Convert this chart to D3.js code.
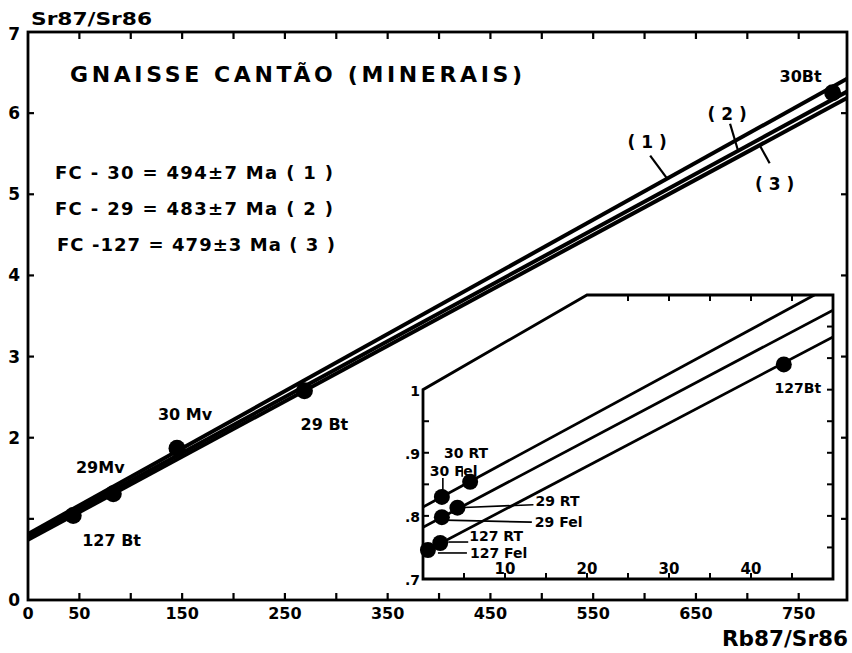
<!DOCTYPE html>
<html>
<head>
<meta charset="utf-8">
<script src="https://cdn.jsdelivr.net/npm/d3@7"></script>
<style>
  body { margin: 0; background: #fff; }
  text { font-family: "DejaVu Sans", sans-serif; font-weight: bold; fill: #000; }
</style>
</head>
<body>
<div id="wrapper"></div>
<script>
// main diagram: minerals
const mineralNames = ["127 Bt", "29Mv", "30 Mv", "29 Bt", "30Bt"];
const mineralRb = [44, 83, 145, 269, 783];
const mineralSr = [1.04, 1.31, 1.87, 2.58, 6.25];

// inset: whole rocks and feldspars
const insetNames = ["30 Fel", "30 RT", "29 Fel", "29 RT", "127 Fel", "127 RT", "127Bt"];
const insetRb = [2.3, 5.75, 2.3, 4.2, 0.6, 2.1, 44];
const insetSr = [0.83, 0.854, 0.798, 0.813, 0.746, 0.757, 1.04];

// isochrons
const isoLabels = ["( 1 )", "( 2 )", "( 3 )"];
const isoSlope = [0.00704, 0.00688, 0.00683];
const isoIntercept = [0.814, 0.782, 0.742];
const ageLines = ["FC - 30 = 494±7 Ma ( 1 )", "FC - 29 = 483±7 Ma ( 2 )", "FC -127 = 479±3 Ma ( 3 )"];

// ticks
const xTickLabels = [0, 50, 150, 250, 350, 450, 550, 650, 750];
const yTickLabels = [0, 2, 3, 4, 5, 6, 7];
const insetXLabels = [10, 20, 30, 40];
const insetYLabels = [0.7, 0.8, 0.9, 1];

const mainData = mineralNames.map((name, i) => ({ name, x: mineralRb[i], y: mineralSr[i] }));
const insetData = insetNames.map((name, i) => ({ name, x: insetRb[i], y: insetSr[i] }));
const isochrons = isoLabels.map((label, i) => ({ label, m: isoSlope[i], b: isoIntercept[i] }));

const drawChart = () => {
  const dimensions = { width: 852, height: 653 };

  const svg = d3
    .select("#wrapper")
    .append("svg")
    .attr("width", dimensions.width)
    .attr("height", dimensions.height);

  svg.append("rect").attr("width", dimensions.width).attr("height", dimensions.height).attr("fill", "#fff");

  const xScale = d3.scaleLinear().domain([0, 797]).range([28, 847]);
  const yScale = d3.scaleLinear().domain([0, 7]).range([600, 32]);

  svg.append("clipPath").attr("id", "mainClip")
    .append("rect")
    .attr("x", xScale(0)).attr("y", yScale(7))
    .attr("width", xScale(797) - xScale(0))
    .attr("height", yScale(0) - yScale(7));

  // isochron lines
  svg.append("g")
    .attr("clip-path", "url(#mainClip)")
    .selectAll("line")
    .data(isochrons)
    .join("line")
    .attr("x1", xScale(0))
    .attr("y1", (d) => yScale(d.b))
    .attr("x2", xScale(797))
    .attr("y2", (d) => yScale(d.b + d.m * 797))
    .attr("stroke", "#000")
    .attr("stroke-width", 4);

  // frame
  svg.append("rect")
    .attr("x", xScale(0)).attr("y", yScale(7))
    .attr("width", xScale(797) - xScale(0))
    .attr("height", yScale(0) - yScale(7))
    .attr("fill", "none")
    .attr("stroke", "#000")
    .attr("stroke-width", 2.8);

  const xTicks = d3.range(50, 797, 50);
  const yTicks = d3.range(1, 7);
  const tickG = svg.append("g").attr("stroke", "#000").attr("stroke-width", 2.2);
  xTicks.forEach((t) => {
    tickG.append("line").attr("x1", xScale(t)).attr("x2", xScale(t)).attr("y1", yScale(0)).attr("y2", yScale(0) - 7);
    tickG.append("line").attr("x1", xScale(t)).attr("x2", xScale(t)).attr("y1", yScale(7)).attr("y2", yScale(7) + 7);
  });
  yTicks.forEach((t) => {
    tickG.append("line").attr("x1", xScale(0)).attr("x2", xScale(0) + 6).attr("y1", yScale(t)).attr("y2", yScale(t));
    tickG.append("line").attr("x1", xScale(797)).attr("x2", xScale(797) - 6).attr("y1", yScale(t)).attr("y2", yScale(t));
  });

  svg.append("g")
    .selectAll("text")
    .data(xTickLabels)
    .join("text")
    .attr("x", (d) => xScale(d))
    .attr("y", yScale(0) + 19)
    .attr("text-anchor", "middle")
    .style("font-size", "16px")
    .text((d) => d);

  svg.append("g")
    .selectAll("text")
    .data(yTickLabels)
    .join("text")
    .attr("x", 20)
    .attr("y", (d) => yScale(d) + (d === 7 ? 8 : 6))
    .attr("text-anchor", "end")
    .style("font-size", "17px")
    .text((d) => d);

  svg.append("text").attr("x", 31).attr("y", 25)
    .attr("textLength", 121).attr("lengthAdjust", "spacingAndGlyphs")
    .style("font-size", "18px").text("Sr87/Sr86");
  svg.append("text").attr("x", 722).attr("y", 646)
    .attr("textLength", 126).attr("lengthAdjust", "spacingAndGlyphs")
    .style("font-size", "21px").text("Rb87/Sr86");

  svg.append("text")
    .attr("x", 70).attr("y", 82)
    .attr("textLength", 452)
    .attr("lengthAdjust", "spacing")
    .style("font-size", "22px")
    .text("GNAISSE CANTÃO  (MINERAIS)");

  svg.append("g")
    .selectAll("text")
    .data(ageLines)
    .join("text")
    .attr("x", (d, i) => (i === 2 ? 57 : 55))
    .attr("y", (d, i) => 179 + i * 36)
    .attr("textLength", 278)
    .attr("lengthAdjust", "spacing")
    .style("font-size", "18px")
    .text((d) => d);

  // isochron labels with leaders
  const isoAnnot = [
    { at: 622, leader: [-17, -23], text: [-20, -31] },
    { at: 691, leader: [-8, -27], text: [-11, -31] },
    { at: 712, leader: [10, 18], text: [15, 45] },
  ];
  isochrons.forEach((d, i) => {
    const a = isoAnnot[i];
    const px = xScale(a.at);
    const py = yScale(d.b + d.m * a.at);
    svg.append("line")
      .attr("x1", px).attr("y1", py)
      .attr("x2", px + a.leader[0]).attr("y2", py + a.leader[1])
      .attr("stroke", "#000").attr("stroke-width", 2.2);
    svg.append("text")
      .attr("x", px + a.text[0]).attr("y", py + a.text[1])
      .attr("text-anchor", "middle")
      .style("font-size", "17px")
      .text(d.label);
  });

  // mineral points
  svg.append("g")
    .selectAll("circle")
    .data(mainData)
    .join("circle")
    .attr("cx", (d) => xScale(d.x))
    .attr("cy", (d) => yScale(d.y))
    .attr("r", 8.5)
    .attr("fill", "#000");

  const mainLabelPos = [
    [9, 30, "start"],
    [-13, -21, "middle"],
    [8, -28, "middle"],
    [20, 39, "middle"],
    [-32, -11, "middle"],
  ];
  svg.append("g")
    .selectAll("text")
    .data(mainData)
    .join("text")
    .attr("x", (d, i) => xScale(d.x) + mainLabelPos[i][0])
    .attr("y", (d, i) => yScale(d.y) + mainLabelPos[i][1])
    .attr("text-anchor", (d, i) => mainLabelPos[i][2])
    .style("font-size", "16px")
    .text((d) => d.name);

  // ---------- inset ----------
  const ix = d3.scaleLinear().domain([0, 50]).range([423, 833]);
  const iy = d3.scaleLinear().domain([0.7, 1.15]).range([579, 295]);
  const corner = [[0, 0.7], [0, 1.0], [20, 1.15], [50, 1.15], [50, 0.7]];
  const polyPath = d3.line().x((d) => ix(d[0])).y((d) => iy(d[1]))(corner) + "Z";

  svg.append("clipPath").attr("id", "insetClip").append("path").attr("d", polyPath);
  svg.append("path").attr("d", polyPath).attr("fill", "#fff");

  svg.append("g")
    .attr("clip-path", "url(#insetClip)")
    .selectAll("line")
    .data(isochrons)
    .join("line")
    .attr("x1", ix(0))
    .attr("y1", (d) => iy(d.b))
    .attr("x2", ix(50))
    .attr("y2", (d) => iy(d.b + d.m * 50))
    .attr("stroke", "#000")
    .attr("stroke-width", 2.8);

  svg.append("path").attr("d", polyPath).attr("fill", "none").attr("stroke", "#000").attr("stroke-width", 2.8);

  const iTicks = svg.append("g").attr("stroke", "#000").attr("stroke-width", 2);
  d3.range(5, 50, 5).forEach((t) => {
    iTicks.append("line").attr("x1", ix(t)).attr("x2", ix(t)).attr("y1", iy(0.7)).attr("y2", iy(0.7) - 6);
    if (t > 20) iTicks.append("line").attr("x1", ix(t)).attr("x2", ix(t)).attr("y1", iy(1.15)).attr("y2", iy(1.15) + 6);
  });
  d3.range(0.75, 0.99, 0.05).forEach((t) => {
    iTicks.append("line").attr("x1", ix(0)).attr("x2", ix(0) + 6).attr("y1", iy(t)).attr("y2", iy(t));
  });
  d3.range(0.75, 1.14, 0.05).forEach((t) => {
    iTicks.append("line").attr("x1", ix(50)).attr("x2", ix(50) - 6).attr("y1", iy(t)).attr("y2", iy(t));
  });

  svg.append("g")
    .selectAll("text")
    .data(insetXLabels)
    .join("text")
    .attr("x", (d) => ix(d))
    .attr("y", iy(0.7) - 5)
    .attr("text-anchor", "middle")
    .style("font-size", "15px")
    .text((d) => d);

  svg.append("g")
    .selectAll("text")
    .data(insetYLabels)
    .join("text")
    .attr("x", ix(0) - 3)
    .attr("y", (d) => iy(d) + 6)
    .attr("text-anchor", "end")
    .style("font-size", "14px")
    .text((d) => (d === 1 ? "1" : String(d).replace("0.", ".")));

  // inset leaders
  const leaderOffsets = [
    [[1, -7], [1, -19]],
    [[-8, -5], [-8, -14]],
    [[3, 3], [90, 5]],
    [[0, 0], [76, -3]],
    [[10, 3], [39, 3]],
    [[8, -1], [28, -1]],
    null,
  ];
  insetData.forEach((d, i) => {
    const l = leaderOffsets[i];
    if (!l) return;
    svg.append("line")
      .attr("x1", ix(d.x) + l[0][0]).attr("y1", iy(d.y) + l[0][1])
      .attr("x2", ix(d.x) + l[1][0]).attr("y2", iy(d.y) + l[1][1])
      .attr("stroke", "#000").attr("stroke-width", 1.6);
  });

  svg.append("g")
    .selectAll("circle")
    .data(insetData)
    .join("circle")
    .attr("cx", (d) => ix(d.x))
    .attr("cy", (d) => iy(d.y))
    .attr("r", 8)
    .attr("fill", "#000");

  const insetLabelPos = [
    [-12, -21, "start"],
    [-4, -24, "middle"],
    [93, 10, "start"],
    [78, -2, "start"],
    [42, 8, "start"],
    [29, -2, "start"],
    [14, 29, "middle"],
  ];
  svg.append("g")
    .selectAll("text")
    .data(insetData)
    .join("text")
    .attr("x", (d, i) => ix(d.x) + insetLabelPos[i][0])
    .attr("y", (d, i) => iy(d.y) + insetLabelPos[i][1])
    .attr("text-anchor", (d, i) => insetLabelPos[i][2])
    .style("font-size", "14px")
    .text((d) => d.name);
};

drawChart();
</script>
</body>
</html>
